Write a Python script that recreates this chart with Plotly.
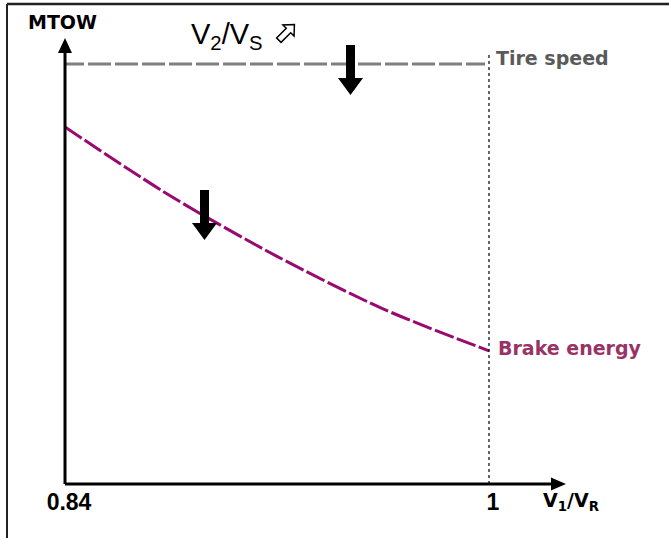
import math
import plotly.graph_objects as go

# ---- data ----
x_ticks = [0.84, 1.0]
x_tick_labels = ["0.84", "1"]

brake_x = [0.84, 0.88, 0.92, 0.96, 1.0]
brake_mtow = [85.0, 68.5, 54.2, 41.7, 31.7]

tire_x = [0.8385, 0.9985]
tire_mtow = [100.0, 100.0]

v1_limit = 1.0

# ---- layout geometry (pixels) ----
W, H = 669, 538
ML, MR, MT, MB = 65, 103, 38, 54
PW, PH = W - ML - MR, H - MT - MB
X_PER_PX = 0.16 / 424.0
Y_PER_PX = 1 / 4.2
x_range = [0.84, 0.84 + PW * X_PER_PX]
y_range = [0.0, PH * Y_PER_PX]


def px(xp, yp):
    """Pixel position -> paper coordinates."""
    return (xp - ML) / PW, (H - MB - yp) / PH


def poly(points, close=True):
    parts = []
    for i, (a, b) in enumerate(points):
        u, v = px(a, b)
        parts.append(("M" if i == 0 else "L") + f"{u:.5f},{v:.5f}")
    return " ".join(parts) + (" Z" if close else "")


def down_arrow(tx, ty):
    # solid downward arrow with its tip at (tx, ty)
    return [(tx, ty), (tx - 12.5, ty - 17), (tx - 4.5, ty - 17), (tx - 4.5, ty - 50),
            (tx + 4.5, ty - 50), (tx + 4.5, ty - 17), (tx + 12.5, ty - 17)]


def hollow_ne_arrow(cx, cy, s=1.0):
    pts = [(10, 0), (2, 7.5), (2, 3), (-11, 3), (-11, -3), (2, -3), (2, -7.5)]
    c, sn = math.cos(math.radians(-45)), math.sin(math.radians(-45))
    return [(cx + s * (a * c - b * sn), cy + s * (a * sn + b * c)) for a, b in pts]


fig = go.Figure()

fig.add_trace(go.Scatter(
    x=tire_x, y=tire_mtow, mode="lines",
    line=dict(color="#7f7f7f", width=3, dash="23px,4px"),
    hoverinfo="skip", showlegend=False))

fig.add_trace(go.Scatter(
    x=brake_x, y=brake_mtow, mode="lines",
    line=dict(color="#990a70", width=3, dash="20px,3.5px", shape="spline", smoothing=0.8),
    hoverinfo="skip", showlegend=False))

shapes = [
    # frame (top and left edges)
    dict(type="line", xref="paper", yref="paper", x0=px(7, 4)[0], y0=px(7, 4)[1],
         x1=px(W + 2, 4)[0], y1=px(W + 2, 4)[1], line=dict(color="#222", width=2.5)),
    dict(type="line", xref="paper", yref="paper", x0=px(7, 4)[0], y0=px(7, 4)[1],
         x1=px(7, H + 2)[0], y1=px(7, H + 2)[1], line=dict(color="#222", width=2)),
    # V1 = VR limit
    dict(type="line", xref="x", yref="paper", x0=v1_limit, x1=v1_limit,
         y0=0, y1=px(0, 53)[1], line=dict(color="black", width=1.2, dash="3px,3px")),
    # axes with arrowheads
    dict(type="line", xref="paper", yref="paper", x0=0, y0=0, x1=0, y1=px(0, 50)[1],
         line=dict(color="black", width=3)),
    dict(type="line", xref="paper", yref="paper", x0=0, y0=0, x1=px(555, 0)[0], y1=0,
         line=dict(color="black", width=3)),
    dict(type="path", xref="paper", yref="paper", line=dict(width=0), fillcolor="black",
         path=poly([(65, 38), (58, 53), (72, 53)])),
    dict(type="path", xref="paper", yref="paper", line=dict(width=0), fillcolor="black",
         path=poly([(566, 484), (551, 477.5), (551, 490.5)])),
    # downward shift arrows
    dict(type="path", xref="paper", yref="paper", line=dict(width=0), fillcolor="black",
         path=poly(down_arrow(350.5, 95))),
    dict(type="path", xref="paper", yref="paper", line=dict(width=0), fillcolor="black",
         path=poly(down_arrow(204.5, 240))),
    # hollow "increase" arrow next to V2/VS
    dict(type="path", xref="paper", yref="paper", line=dict(width=1.5, color="black"),
         fillcolor="white", path=poly(hollow_ne_arrow(287, 32, 1.05))),
]


def note(text, xp, yp, size, color="black", family="DejaVu Sans", bold=True,
         xanchor="center"):
    u, v = px(xp, yp)
    return dict(text=f"<b>{text}</b>" if bold else text, x=u, y=v, xref="paper",
                yref="paper", xanchor=xanchor, yanchor="middle", showarrow=False,
                font=dict(size=size, color=color, family=family))


annotations = [
    note("MTOW", 62, 22, 19, family="DejaVu Sans"),
    note("V<sub>2</sub>/V<sub>S</sub>", 189, 36, 29, family="Liberation Sans",
         bold=False, xanchor="left"),
    note("Tire speed", 494, 58, 19, color="#5a5a5a", xanchor="left"),
    note("Brake energy", 496, 348, 19, color="#993366", xanchor="left"),
    note("V<sub>1</sub>/V<sub>R</sub>", 541, 502, 19, family="DejaVu Sans",
         xanchor="left"),
]

fig.update_layout(
    width=W, height=H,
    margin=dict(l=ML, r=MR, t=MT, b=MB),
    paper_bgcolor="white", plot_bgcolor="white",
    shapes=shapes, annotations=annotations,
    xaxis=dict(range=x_range, showgrid=False, zeroline=False, showline=False,
               tickvals=x_ticks, ticktext=[f"<b>{t}</b>" for t in x_tick_labels],
               ticks="", ticklabelshift=4, ticklabelstandoff=2,
               tickfont=dict(family="Liberation Sans", size=23, color="black"),
               fixedrange=True),
    yaxis=dict(range=y_range, showgrid=False, zeroline=False, showline=False,
               showticklabels=False, ticks="", fixedrange=True),
)

fig.write_html("out.html", config={"displayModeBar": False})
